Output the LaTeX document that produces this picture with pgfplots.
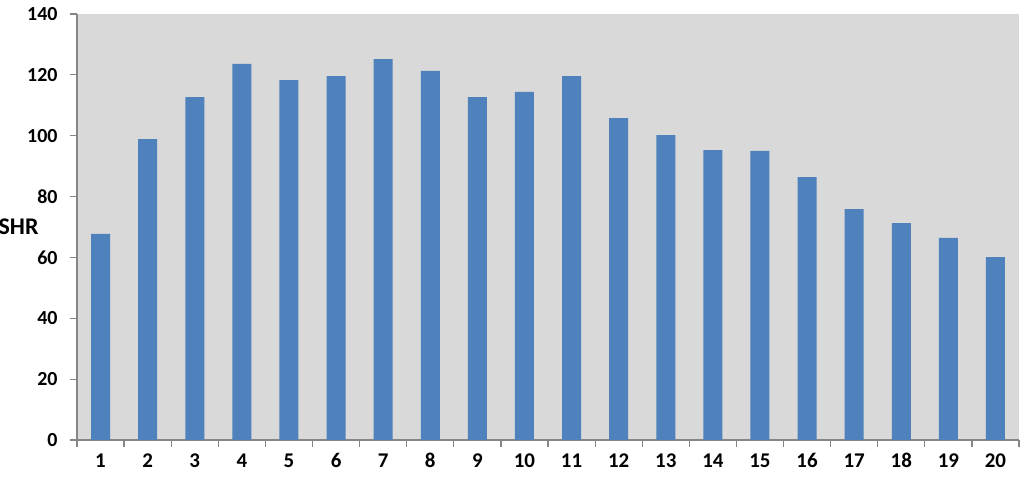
\documentclass[border=0pt]{standalone}
\usepackage{fontspec}
\setmainfont{Carlito}
\usepackage{pgfplots}
\pgfplotsset{compat=1.18}
\definecolor{bgray}{HTML}{D9D9D9}
\definecolor{barblue}{HTML}{4F81BD}
\definecolor{axgray}{HTML}{868686}
\newcommand{\lbl}{\fontsize{20}{24}\selectfont\bfseries}
\newcommand{\xlbl}{\fontsize{21}{25}\selectfont\bfseries}
\newcommand{\ylbl}{\fontsize{24}{28}\selectfont\bfseries}
\begin{document}
\begin{tikzpicture}
\begin{axis}[
  scale only axis,
  width=942bp, height=426bp,
  at={(0,0)}, anchor=south west,
  xmin=0.5, xmax=20.5, ymin=0, ymax=140,
  axis lines=left,
  axis line style={-, axgray, line width=1.2bp},
  axis background/.style={fill=bgray},
  xtick={1,...,20},
  xticklabel={\xlbl\pgfmathprintnumber[assume math mode=true]{\tick}},
  minor xtick={0.5,1.5,...,20.5},
  major x tick style={draw=none},
  minor x tick style={axgray, line width=1.2bp},
  ytick={0,20,...,140},
  yticklabel={\lbl\pgfmathprintnumber[assume math mode=true]{\tick}},
  y tick style={axgray, line width=1.2bp},
  tick align=outside,
  major tick length=7bp,
  minor tick length=7bp,
  xticklabel style={yshift=-3bp},
  yticklabel style={xshift=-9bp},
  every axis y label/.style={at={(rel axis cs:0,0.5)}, anchor=east, xshift=-35bp, font=\ylbl},
  ylabel={SHR},
]
\addplot[ybar, bar width=19bp, bar shift=0pt, fill=barblue, draw=none] coordinates {
(1,67.7) (2,98.9) (3,112.7) (4,123.6) (5,118.3) (6,119.6) (7,125.2) (8,121.3) (9,112.7) (10,114.4)
(11,119.6) (12,105.8) (13,100.2) (14,95.3) (15,95.0) (16,86.4) (17,75.9) (18,71.3) (19,66.4) (20,60.1)
};
\end{axis}
\pgfresetboundingbox
\path[use as bounding box] (-77bp,-43bp) rectangle (947bp,440bp);
\end{tikzpicture}
\end{document}
